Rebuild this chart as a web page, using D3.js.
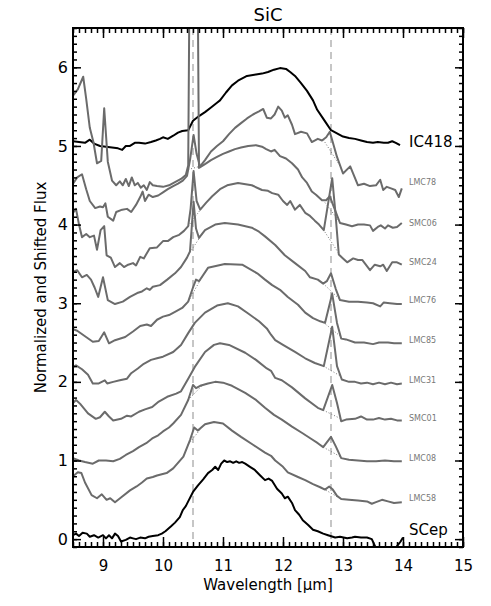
<!DOCTYPE html>
<html><head><meta charset="utf-8">
<script src="https://cdn.jsdelivr.net/npm/d3@7"></script>
<style>
html,body{margin:0;padding:0;background:#fff;}
svg text{font-family:"DejaVu Sans",sans-serif;}
</style></head>
<body>
<svg id="chart" width="491" height="606"></svg>
<script>
// ---------------- DATA ----------------
const titleText = "SiC";
const xLabelText = "Wavelength [\u03bcm]";
const yLabelText = "Normalized and Shifted Flux";
const xDomain = [8.5, 15];
const yDomain = [-0.1, 6.5];
const xMajorTicks = [9, 10, 11, 12, 13, 14, 15];
const yMajorTicks = [0, 1, 2, 3, 4, 5, 6];
const featureLines = [10.5, 12.8];

const names = ["IC418","LMC78","SMC06","SMC24","LMC76","LMC85","LMC31","SMC01","LMC08","LMC58","SCep"];
const labelY = [5.05, 4.53, 4.02, 3.52, 3.03, 2.52, 2.02, 1.53, 1.03, 0.52, 0.11];

const IC418 = [[8.5,5.06],[8.6,5.05],[8.7,5.04],[8.78,5.08],[8.85,5.03],[8.95,5.0],[9.05,4.99],[9.15,4.98],[9.25,4.97],[9.32,4.95],[9.38,5.0],[9.45,5.0],[9.53,5.04],[9.6,5.04],[9.7,5.03],[9.8,5.05],[9.88,5.07],[9.95,5.09],[10.0,5.11],[10.08,5.09],[10.17,5.13],[10.25,5.17],[10.32,5.19],[10.42,5.2],[10.5,5.32],[10.6,5.38],[10.7,5.43],[10.8,5.49],[10.9,5.55],[10.95,5.58],[11.05,5.68],[11.15,5.77],[11.25,5.83],[11.4,5.89],[11.55,5.91],[11.65,5.92],[11.75,5.94],[11.85,5.97],[11.95,5.99],[12.05,5.98],[12.12,5.94],[12.2,5.89],[12.3,5.8],[12.4,5.7],[12.5,5.58],[12.57,5.46],[12.65,5.37],[12.72,5.29],[12.8,5.2],[12.9,5.16],[13.0,5.12],[13.1,5.1],[13.2,5.09],[13.3,5.07],[13.4,5.05],[13.5,5.04],[13.58,5.05],[13.68,5.04],[13.75,5.04],[13.82,5.06],[13.88,5.04],[13.95,5.01]];
const LMC78 = [[8.5,5.64],[8.58,5.72],[8.67,5.88],[8.72,5.6],[8.78,5.23],[8.84,5.05],[8.9,4.78],[8.97,4.81],[9.02,5.48],[9.08,4.8],[9.15,4.56],[9.22,4.5],[9.28,4.55],[9.33,4.5],[9.38,4.58],[9.43,4.49],[9.48,4.6],[9.53,4.5],[9.58,4.53],[9.63,4.47],[9.68,4.5],[9.73,4.44],[9.78,4.54],[9.83,4.5],[9.9,4.49],[10.0,4.48],[10.1,4.5],[10.2,4.54],[10.3,4.58],[10.38,4.63],[10.42,4.75],[10.45,8.0],[10.57,8.0],[10.6,4.72],[10.7,4.82],[10.8,4.93],[10.9,5.0],[11.0,5.06],[11.1,5.15],[11.2,5.23],[11.3,5.29],[11.4,5.35],[11.5,5.4],[11.6,5.44],[11.67,5.47],[11.73,5.36],[11.8,5.35],[11.86,5.4],[11.92,5.5],[11.98,5.45],[12.03,5.36],[12.08,5.39],[12.15,5.27],[12.2,5.15],[12.3,5.18],[12.4,5.16],[12.48,5.05],[12.58,5.09],[12.65,5.07],[12.72,5.11],[12.78,5.18],[12.9,4.86],[13.0,4.65],[13.12,4.74],[13.25,4.5],[13.35,4.52],[13.45,4.49],[13.55,4.5],[13.62,4.57],[13.67,4.44],[13.73,4.48],[13.8,4.46],[13.87,4.44],[13.93,4.35],[13.98,4.46]];
const SMC06 = [[8.5,4.52],[8.57,4.6],[8.65,4.64],[8.72,4.45],[8.78,4.3],[8.87,4.21],[8.95,4.23],[9.0,4.22],[9.04,4.27],[9.08,4.1],[9.17,4.05],[9.22,4.16],[9.32,4.19],[9.4,4.2],[9.47,4.16],[9.55,4.25],[9.62,4.35],[9.66,4.42],[9.7,4.3],[9.76,4.38],[9.83,4.35],[9.92,4.37],[10.0,4.41],[10.08,4.45],[10.17,4.49],[10.25,4.52],[10.33,4.56],[10.4,4.62],[10.45,4.82],[10.51,5.14],[10.56,4.9],[10.62,4.73],[10.7,4.77],[10.8,4.82],[10.9,4.86],[11.0,4.9],[11.1,4.93],[11.2,4.96],[11.3,4.98],[11.42,5.0],[11.55,5.01],[11.65,4.99],[11.72,4.96],[11.8,4.93],[11.86,4.95],[11.95,4.87],[12.05,4.84],[12.15,4.78],[12.25,4.7],[12.32,4.6],[12.4,4.53],[12.48,4.42],[12.55,4.38],[12.65,4.31],[12.72,4.31],[12.78,4.36],[12.85,4.22],[12.95,4.02],[13.05,4.0],[13.15,3.98],[13.25,4.0],[13.35,4.0],[13.45,3.99],[13.5,3.92],[13.58,3.97],[13.63,3.99],[13.7,3.95],[13.75,3.99],[13.83,3.96],[13.9,3.97],[13.98,4.02]];
const SMC24 = [[8.5,4.15],[8.55,4.2],[8.6,4.0],[8.65,3.84],[8.72,3.88],[8.78,3.84],[8.85,3.86],[8.9,3.68],[8.96,3.93],[9.02,3.98],[9.06,3.61],[9.13,3.58],[9.2,3.46],[9.28,3.51],[9.35,3.46],[9.42,3.49],[9.5,3.51],[9.55,3.48],[9.62,3.59],[9.68,3.57],[9.78,3.7],[9.9,3.71],[10.0,3.79],[10.08,3.79],[10.17,3.84],[10.27,3.87],[10.35,3.92],[10.42,3.98],[10.46,4.2],[10.51,4.68],[10.56,4.3],[10.62,4.19],[10.72,4.28],[10.82,4.36],[10.95,4.45],[11.07,4.5],[11.25,4.53],[11.48,4.5],[11.65,4.44],[11.75,4.43],[11.82,4.4],[11.92,4.38],[12.0,4.3],[12.07,4.25],[12.12,4.3],[12.2,4.19],[12.28,4.25],[12.37,4.15],[12.45,4.11],[12.53,4.05],[12.6,4.0],[12.68,3.93],[12.82,4.59],[12.87,4.18],[12.93,3.62],[13.0,3.57],[13.07,3.52],[13.17,3.57],[13.25,3.55],[13.32,3.55],[13.45,3.42],[13.53,3.49],[13.62,3.47],[13.67,3.49],[13.73,3.41],[13.82,3.52],[13.9,3.52],[13.98,3.49]];
const LMC76 = [[8.5,3.4],[8.57,3.42],[8.65,3.33],[8.73,3.36],[8.8,3.3],[8.86,3.2],[8.92,3.08],[9.0,3.33],[9.08,3.04],[9.2,2.99],[9.33,3.02],[9.45,3.08],[9.57,3.13],[9.65,3.15],[9.73,3.19],[9.78,3.17],[9.83,3.21],[9.95,3.23],[10.07,3.3],[10.2,3.38],[10.3,3.46],[10.4,3.58],[10.45,3.66],[10.51,4.29],[10.55,3.95],[10.6,3.83],[10.7,3.93],[10.87,4.0],[11.03,4.02],[11.25,4.0],[11.48,3.96],[11.6,3.91],[11.7,3.85],[11.87,3.74],[12.03,3.61],[12.2,3.51],[12.37,3.41],[12.45,3.33],[12.58,3.3],[12.67,3.25],[12.73,3.28],[12.8,3.38],[12.88,3.18],[12.95,3.04],[13.1,3.02],[13.25,3.02],[13.4,3.01],[13.5,3.0],[13.62,2.96],[13.68,3.01],[13.78,3.0],[13.9,2.99],[13.98,2.99]];
const LMC85 = [[8.5,2.67],[8.57,2.65],[8.7,2.58],[8.83,2.51],[8.93,2.52],[9.02,2.63],[9.1,2.49],[9.2,2.53],[9.37,2.57],[9.5,2.64],[9.62,2.71],[9.73,2.73],[9.8,2.71],[9.9,2.79],[10.0,2.83],[10.1,2.85],[10.2,2.89],[10.32,2.94],[10.42,3.02],[10.5,3.2],[10.55,3.3],[10.6,3.28],[10.75,3.45],[11.03,3.5],[11.32,3.49],[11.57,3.38],[11.7,3.3],[11.82,3.23],[11.95,3.17],[12.08,3.08],[12.25,2.98],[12.37,2.88],[12.5,2.81],[12.62,2.77],[12.7,2.75],[12.82,3.12],[12.9,2.75],[12.97,2.55],[13.05,2.54],[13.2,2.5],[13.35,2.5],[13.5,2.48],[13.6,2.5],[13.75,2.5],[13.85,2.49],[13.98,2.49]];
const LMC31 = [[8.5,2.19],[8.55,2.21],[8.65,2.16],[8.75,2.09],[8.83,1.98],[8.93,1.98],[9.03,2.02],[9.07,1.98],[9.17,2.0],[9.28,2.02],[9.4,2.04],[9.47,2.11],[9.58,2.17],[9.68,2.23],[9.8,2.28],[9.9,2.3],[10.0,2.32],[10.17,2.38],[10.3,2.47],[10.42,2.62],[10.53,2.75],[10.7,2.88],[10.9,2.97],[11.08,3.0],[11.25,2.96],[11.42,2.87],[11.6,2.77],[11.73,2.68],[11.8,2.6],[11.87,2.53],[12.0,2.47],[12.2,2.38],[12.37,2.3],[12.53,2.24],[12.68,2.2],[12.82,2.7],[12.9,2.2],[12.98,2.03],[13.1,2.0],[13.2,2.0],[13.3,1.98],[13.4,1.99],[13.5,1.97],[13.6,1.99],[13.7,1.97],[13.8,1.99],[13.9,1.97],[13.98,1.98]];
const SMC01 = [[8.5,1.73],[8.55,1.77],[8.62,1.72],[8.75,1.6],[8.88,1.53],[8.95,1.55],[9.03,1.62],[9.1,1.56],[9.17,1.51],[9.3,1.53],[9.4,1.57],[9.47,1.56],[9.6,1.62],[9.7,1.65],[9.82,1.68],[9.93,1.75],[10.07,1.81],[10.22,1.85],[10.3,1.88],[10.42,2.04],[10.53,2.19],[10.7,2.38],[10.85,2.47],[10.95,2.49],[11.1,2.47],[11.37,2.37],[11.55,2.28],[11.73,2.17],[11.8,2.14],[11.87,2.05],[11.98,2.02],[12.15,1.93],[12.37,1.79],[12.58,1.67],[12.67,1.64],[12.82,1.96],[12.9,1.73],[12.97,1.5],[13.05,1.52],[13.2,1.53],[13.3,1.56],[13.4,1.52],[13.5,1.52],[13.6,1.54],[13.7,1.52],[13.8,1.53],[13.9,1.51],[13.98,1.51]];
const LMC08 = [[8.5,1.03],[8.6,1.0],[8.7,0.98],[8.83,0.96],[8.93,1.0],[9.05,1.0],[9.17,0.99],[9.28,1.02],[9.38,1.07],[9.5,1.12],[9.6,1.17],[9.72,1.22],[9.82,1.28],[9.92,1.32],[10.0,1.37],[10.1,1.42],[10.17,1.47],[10.3,1.58],[10.42,1.77],[10.5,1.96],[10.55,1.92],[10.62,1.95],[10.75,1.98],[10.87,2.0],[11.0,1.99],[11.15,1.95],[11.37,1.86],[11.55,1.77],[11.7,1.67],[11.85,1.58],[11.98,1.52],[12.15,1.43],[12.32,1.35],[12.48,1.27],[12.58,1.22],[12.67,1.17],[12.8,1.3],[12.88,1.18],[12.97,1.03],[13.1,1.01],[13.25,1.0],[13.4,0.99],[13.55,0.99],[13.7,1.0],[13.85,0.99],[13.98,0.99]];
const LMC58 = [[8.5,0.8],[8.58,0.85],[8.64,0.84],[8.7,0.72],[8.81,0.56],[8.9,0.52],[8.98,0.57],[9.06,0.5],[9.12,0.52],[9.2,0.47],[9.3,0.53],[9.45,0.62],[9.56,0.67],[9.65,0.72],[9.73,0.77],[9.83,0.79],[9.9,0.81],[10.06,0.84],[10.17,0.9],[10.34,1.05],[10.45,1.26],[10.52,1.42],[10.58,1.38],[10.7,1.46],[10.85,1.49],[11.0,1.47],[11.15,1.38],[11.3,1.3],[11.5,1.2],[11.7,1.1],[11.8,1.06],[11.87,1.0],[12.0,0.92],[12.08,0.85],[12.25,0.79],[12.37,0.75],[12.5,0.7],[12.62,0.66],[12.7,0.63],[12.77,0.67],[12.83,0.63],[12.9,0.55],[12.97,0.51],[13.1,0.5],[13.25,0.49],[13.4,0.48],[13.48,0.45],[13.55,0.47],[13.65,0.5],[13.75,0.48],[13.85,0.46],[13.98,0.47]];
const SCep = [[8.5,0.05],[8.55,0.07],[8.6,0.04],[8.66,0.08],[8.73,0.07],[8.78,0.03],[8.85,0.05],[8.92,0.02],[9.0,0.05],[9.05,0.01],[9.1,0.05],[9.15,0.01],[9.2,0.07],[9.25,0.04],[9.3,-0.03],[9.38,-0.01],[9.45,0.02],[9.5,0.01],[9.55,0.0],[9.62,0.02],[9.7,0.01],[9.76,0.03],[9.83,0.04],[9.92,0.05],[9.98,0.07],[10.04,0.1],[10.13,0.16],[10.2,0.21],[10.28,0.28],[10.33,0.37],[10.38,0.42],[10.42,0.48],[10.5,0.6],[10.58,0.68],[10.67,0.76],[10.75,0.84],[10.82,0.88],[10.87,0.92],[10.92,0.88],[10.97,0.96],[11.02,1.0],[11.07,0.98],[11.12,0.99],[11.17,0.97],[11.22,0.99],[11.27,0.97],[11.32,0.98],[11.37,0.96],[11.45,0.92],[11.53,0.88],[11.62,0.81],[11.7,0.75],[11.76,0.77],[11.82,0.74],[11.9,0.64],[11.98,0.58],[12.03,0.52],[12.08,0.54],[12.15,0.46],[12.2,0.37],[12.27,0.31],[12.33,0.24],[12.42,0.18],[12.5,0.12],[12.58,0.1],[12.67,0.07],[12.75,0.05],[12.87,0.02],[12.95,0.03],[13.07,0.01],[13.15,0.02],[13.2,0.03],[13.3,0.02],[13.4,0.02],[13.48,0.0],[13.57,-0.15],[13.7,-0.2],[13.85,-0.15],[13.9,-0.09],[13.96,-0.03],[14.0,0.02]];

const seriesData = [IC418, LMC78, SMC06, SMC24, LMC76, LMC85, LMC31, SMC01, LMC08, LMC58, SCep];

// underlying-continuum (dotted) spans below the narrow features
const dottedA_series = ["SMC06","SMC24","LMC76","LMC85","LMC08","LMC58"];
const dottedA_span = [10.42, 10.66];
const dottedB_series = ["LMC78","SMC06","SMC24","LMC76","LMC85","LMC31","SMC01","LMC08","LMC58"];
const dottedB_span = [12.67, 12.96];

// ---------------- DRAW ----------------
const svg = d3.select("#chart");
const L = 73, R = 463, T = 28, B = 547;
const x = d3.scaleLinear().domain(xDomain).range([L, R]);
const y = d3.scaleLinear().domain(yDomain).range([B, T]);

svg.append("defs").append("clipPath").attr("id","plotclip")
  .append("rect").attr("x",L).attr("y",T).attr("width",R-L).attr("height",B-T);

const plot = svg.append("g").attr("clip-path","url(#plotclip)");

// dashed feature lines
plot.selectAll("line.feat").data(featureLines).enter().append("line")
  .attr("x1",d=>x(d)).attr("x2",d=>x(d)).attr("y1",T).attr("y2",y(0))
  .attr("stroke","#b4b4b4").attr("stroke-width",1.5).attr("stroke-dasharray","7,5");

function interp(arr, xv){
  for(let i=0;i<arr.length-1;i++){
    if(arr[i][0]<=xv && arr[i+1][0]>=xv){
      const t=(xv-arr[i][0])/(arr[i+1][0]-arr[i][0]);
      return arr[i][1]+t*(arr[i+1][1]-arr[i][1]);
    }
  }
  return arr[arr.length-1][1];
}
function dotted(list, span){
  list.forEach(n=>{
    const arr = seriesData[names.indexOf(n)];
    plot.append("line")
      .attr("x1",x(span[0])).attr("y1",y(interp(arr,span[0])))
      .attr("x2",x(span[1])).attr("y2",y(interp(arr,span[1])))
      .attr("stroke","#777").attr("stroke-width",1).attr("stroke-dasharray","1,2");
  });
}
dotted(dottedA_series, dottedA_span);
dotted(dottedB_series, dottedB_span);

const line = d3.line().x(d=>x(d[0])).y(d=>y(d[1]));
seriesData.forEach((arr,i)=>{
  const black = (i===0 || i===names.length-1);
  plot.append("path").attr("d", line(arr)).attr("fill","none")
    .attr("stroke", black ? "#000" : "#6b6b6b")
    .attr("stroke-width", 2).attr("stroke-linejoin","round");
});

// labels
names.forEach((n,i)=>{
  const black = (i===0 || i===names.length-1);
  svg.append("text").attr("x",409).attr("y",y(labelY[i]))
    .attr("dominant-baseline","central")
    .attr("font-size", black ? 15 : 8)
    .attr("fill", black ? "#000" : "#777")
    .text(n);
});

// axes (ticks inside, all four sides)
const xMinor = x.ticks(65), yMinor = y.ticks(66);
function styleAxis(g){ g.select(".domain").remove(); g.selectAll(".tick line").attr("stroke","#000").attr("stroke-width",1.5); }

svg.append("g").attr("transform",`translate(0,${B})`)
  .call(d3.axisBottom(x).tickValues(xMinor).tickSize(-5).tickFormat("")).call(styleAxis);
svg.append("g").attr("transform",`translate(0,${B})`)
  .call(d3.axisBottom(x).tickValues(xMajorTicks).tickSize(-10).tickPadding(13).tickFormat(d3.format("d")))
  .call(styleAxis)
  .selectAll("text").attr("font-size",15).attr("fill","#000").attr("font-family","DejaVu Sans");
svg.append("g").attr("transform",`translate(0,${T})`)
  .call(d3.axisTop(x).tickValues(xMinor).tickSize(-5).tickFormat("")).call(styleAxis);
svg.append("g").attr("transform",`translate(0,${T})`)
  .call(d3.axisTop(x).tickValues(xMajorTicks).tickSize(-10).tickFormat("")).call(styleAxis);

svg.append("g").attr("transform",`translate(${L},0)`)
  .call(d3.axisLeft(y).tickValues(yMinor).tickSize(-4).tickFormat("")).call(styleAxis);
svg.append("g").attr("transform",`translate(${L},0)`)
  .call(d3.axisLeft(y).tickValues(yMajorTicks).tickSize(-8).tickPadding(5).tickFormat(d3.format("d")))
  .call(styleAxis)
  .selectAll("text").attr("font-size",16).attr("fill","#000").attr("font-family","DejaVu Sans");
svg.append("g").attr("transform",`translate(${R},0)`)
  .call(d3.axisRight(y).tickValues(yMinor).tickSize(-4).tickFormat("")).call(styleAxis);
svg.append("g").attr("transform",`translate(${R},0)`)
  .call(d3.axisRight(y).tickValues(yMajorTicks).tickSize(-8).tickFormat("")).call(styleAxis);

// frame
svg.append("rect").attr("x",L).attr("y",T).attr("width",R-L).attr("height",B-T)
  .attr("fill","none").attr("stroke","#000").attr("stroke-width",2);

// titles
svg.append("text").attr("x",(L+R)/2).attr("y",21).attr("text-anchor","middle")
  .attr("font-size",18).text(titleText);
svg.append("text").attr("x",(L+R)/2).attr("y",590).attr("text-anchor","middle")
  .attr("font-size",15).text(xLabelText);
svg.append("text").attr("transform",`translate(46,${(T+B)/2}) rotate(-90)`)
  .attr("text-anchor","middle").attr("font-size",15).text(yLabelText);
</script>
</body></html>
